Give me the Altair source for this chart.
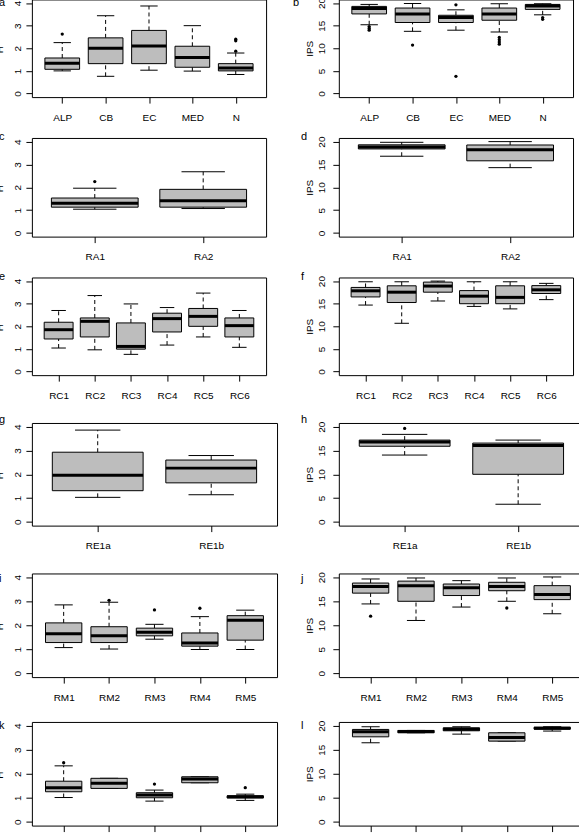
import json
import altair as alt
import pandas as pd

FONT = "Liberation Sans"
GRAY = "#bdbdbd"

# ---------------- data ----------------
# panel a : H' by region
A_CATS = ["ALP", "CB", "EC", "MED", "N"]
A_LO = [1.0, 0.76, 1.03, 0.99, 0.84]
A_Q1 = [1.07, 1.32, 1.32, 1.16, 1.0]
A_MED = [1.34, 2.0, 2.1, 1.59, 1.13]
A_Q3 = [1.57, 2.46, 2.79, 2.09, 1.32]
A_HI = [2.25, 3.44, 3.87, 3.0, 1.79]
A_OUT_X = [1, 5, 5, 5]
A_OUT_Y = [2.63, 1.87, 2.33, 2.4]

# panel b : IPS by region
B_CATS = ["ALP", "CB", "EC", "MED", "N"]
B_LO = [15.2, 13.75, 14.0, 13.6, 17.4]
B_Q1 = [17.6, 15.7, 15.7, 16.2, 18.6]
B_MED = [18.8, 17.6, 16.8, 17.6, 19.35]
B_Q3 = [19.26, 18.9, 17.3, 18.9, 19.7]
B_HI = [19.7, 19.9, 18.5, 19.85, 19.85]
B_OUT_X = [1, 1, 1, 2, 3, 3, 4, 4, 4, 4, 5, 5]
B_OUT_Y = [14.8, 14.4, 14.0, 10.7, 19.6, 3.8, 12.4, 11.9, 11.4, 10.9, 16.8, 16.4]

# panel c
C_CATS = ["RA1", "RA2"]
C_LO = [1.04, 1.07]
C_Q1 = [1.13, 1.13]
C_MED = [1.3, 1.41]
C_Q3 = [1.53, 1.91]
C_HI = [1.96, 2.68]
C_OUT_X = [1]
C_OUT_Y = [2.25]

# panel d
D_CATS = ["RA1", "RA2"]
D_LO = [16.8, 14.3]
D_Q1 = [18.4, 15.8]
D_MED = [18.8, 18.2]
D_Q3 = [19.3, 19.26]
D_HI = [19.85, 20.0]
D_OUT_X = []
D_OUT_Y = []

# panel e
E_CATS = ["RC1", "RC2", "RC3", "RC4", "RC5", "RC6"]
E_LO = [1.04, 0.96, 0.76, 1.17, 1.53, 1.07]
E_Q1 = [1.44, 1.53, 0.99, 1.75, 2.0, 1.53]
E_MED = [1.85, 2.22, 1.11, 2.34, 2.44, 2.03]
E_Q3 = [2.18, 2.37, 2.15, 2.58, 2.79, 2.37]
E_HI = [2.7, 3.36, 2.99, 2.83, 3.47, 2.7]
E_OUT_X = []
E_OUT_Y = []

# panel f
F_CATS = ["RC1", "RC2", "RC3", "RC4", "RC5", "RC6"]
F_LO = [14.7, 10.67, 15.6, 14.4, 13.85, 15.9]
F_Q1 = [16.5, 15.26, 17.55, 15.0, 15.0, 17.26]
F_MED = [17.85, 17.55, 18.9, 16.67, 16.4, 18.07]
F_Q3 = [18.6, 18.96, 19.78, 17.9, 18.96, 19.0]
F_HI = [19.85, 19.85, 20.0, 19.85, 19.85, 19.5]
F_OUT_X = []
F_OUT_Y = []

# panel g
G_CATS = ["RE1a", "RE1b"]
G_LO = [1.03, 1.14]
G_Q1 = [1.31, 1.64]
G_MED = [1.96, 2.26]
G_Q3 = [2.93, 2.6]
G_HI = [3.86, 2.79]
G_OUT_X = []
G_OUT_Y = []

# panel h
H_CATS = ["RE1a", "RE1b"]
H_LO = [14.05, 3.7]
H_Q1 = [15.9, 10.0]
H_MED = [16.8, 16.08]
H_Q3 = [17.2, 16.57]
H_HI = [18.4, 17.2]
H_OUT_X = [1]
H_OUT_Y = [19.65]

# panel i
I_CATS = ["RM1", "RM2", "RM3", "RM4", "RM5"]
I_LO = [1.07, 1.01, 1.42, 0.99, 0.99]
I_Q1 = [1.28, 1.28, 1.56, 1.13, 1.38]
I_MED = [1.65, 1.56, 1.71, 1.26, 2.21]
I_Q3 = [2.1, 1.94, 1.88, 1.68, 2.4]
I_HI = [2.85, 2.96, 2.04, 2.36, 2.63]
I_OUT_X = [2, 3, 4]
I_OUT_Y = [3.04, 2.64, 2.71]

# panel j
J_CATS = ["RM1", "RM2", "RM3", "RM4", "RM5"]
J_LO = [14.45, 11.0, 13.8, 15.0, 12.4]
J_Q1 = [16.7, 15.0, 16.2, 17.2, 15.35]
J_MED = [18.1, 18.26, 17.8, 18.1, 16.4]
J_Q3 = [18.8, 19.2, 18.6, 18.96, 18.26]
J_HI = [19.65, 19.86, 19.3, 19.86, 20.07]
J_OUT_X = [1, 4]
J_OUT_Y = [11.9, 13.6]

# panel k (category labels are cut off in the picture)
K_CATS = ["", "", "", "", ""]
K_LO = [1.01, 1.39, 0.86, 1.625, 0.89]
K_Q1 = [1.25, 1.39, 1.0, 1.625, 0.99]
K_MED = [1.42, 1.6, 1.11, 1.78, 1.04]
K_Q3 = [1.69, 1.81, 1.21, 1.875, 1.08]
K_HI = [2.33, 1.81, 1.32, 1.875, 1.15]
K_OUT_X = [1, 3, 5]
K_OUT_Y = [2.46, 1.57, 1.42]

# panel l
L_CATS = ["", "", "", "", ""]
L_LO = [16.46, 18.54, 18.26, 16.8, 18.9]
L_Q1 = [17.7, 18.54, 18.96, 16.8, 19.3]
L_MED = [18.75, 18.8, 19.3, 17.57, 19.5]
L_Q3 = [19.24, 19.03, 19.58, 18.54, 19.7]
L_HI = [19.8, 19.03, 19.8, 18.54, 19.8]
L_OUT_X = []
L_OUT_Y = []

H_TICKS = [0, 1, 2, 3, 4]
IPS_TICKS = [0, 5, 10, 15, 20]


def panel(cats, lo, q1, med, q3, hi, ox, oy, ymax, yticks, w, h,
          letter, ldx, ldy, title, tx, lpad, xlabels=True):
    n = len(cats)
    df = pd.DataFrame({"pos": list(range(1, n + 1)), "lo": lo, "q1": q1,
                       "med": med, "q3": q3, "hi": hi})
    xs = alt.Scale(domain=[0.5 - 0.04 * n, n + 0.5 + 0.04 * n], nice=False, zero=False)
    ys = alt.Scale(domain=[-0.04 * ymax, 1.04 * ymax], nice=False, zero=False)
    xax = alt.Axis(values=list(range(1, n + 1)),
                   labelExpr=json.dumps(cats) + "[datum.value - 1]",
                   title=None, grid=False, domain=False, tickSize=6, tickColor="black",
                   tickWidth=1, labelFont=FONT, labelFontSize=10, labelColor="black",
                   labelPadding=9, labelAngle=0, labels=xlabels, labelFlush=False,
                   labelOverlap=False)
    yax = alt.Axis(values=yticks, title=title, titleX=tx, titleY=h / 2, titleAngle=270,
                   titleAlign="center", titleBaseline="middle", titleFont=FONT,
                   titleFontSize=10, titleFontWeight="normal", titleColor="black",
                   labelAngle=270, labelAlign="center", labelBaseline="bottom",
                   labelPadding=lpad, tickSize=6, tickColor="black", tickWidth=1,
                   grid=False, domain=False, labelFont=FONT, labelFontSize=10,
                   labelColor="black", labelOverlap=False, labelFlush=False)

    base = alt.Chart(df).transform_calculate(
        bl="datum.pos - 0.4", br="datum.pos + 0.4",
        sl="datum.pos - 0.2", sr="datum.pos + 0.2")

    def X(f):
        return alt.X(f + ":Q", scale=xs, axis=xax)

    def Y(f):
        return alt.Y(f + ":Q", scale=ys, axis=yax)

    dash = dict(color="black", strokeWidth=1, strokeDash=[4, 3])
    solid = dict(color="black", strokeWidth=1)
    layers = [
        base.mark_rule(**dash).encode(x=X("pos"), y=Y("lo"), y2="q1:Q"),
        base.mark_rule(**dash).encode(x=X("pos"), y=Y("q3"), y2="hi:Q"),
        base.mark_rule(**solid).encode(x=X("sl"), x2="sr:Q", y=Y("lo")),
        base.mark_rule(**solid).encode(x=X("sl"), x2="sr:Q", y=Y("hi")),
        base.mark_rect(fill=GRAY, stroke="black", strokeWidth=1).encode(
            x=X("bl"), x2="br:Q", y=Y("q1"), y2="q3:Q"),
        base.mark_rule(color="black", strokeWidth=3).encode(
            x=X("bl"), x2="br:Q", y=Y("med")),
    ]
    if ox:
        odf = pd.DataFrame({"ox": ox, "oy": oy})
        layers.append(alt.Chart(odf).mark_circle(size=11, color="black", opacity=1).encode(
            x=X("ox"), y=Y("oy")))
    ldf = pd.DataFrame({"t": [letter]})
    layers.append(alt.Chart(ldf).mark_text(align="left", baseline="top", font=FONT,
                                           fontSize=11, color="black").encode(
        text="t:N", x=alt.value(ldx), y=alt.value(ldy)))
    return alt.layer(*layers).properties(width=w, height=h)


LETTERS = iter("abcdefghijkl")

specs = [
    # (left data, right data, width, height, letter dy, right letter dx, h spacing, xlabels)
    ((A_CATS, A_LO, A_Q1, A_MED, A_Q3, A_HI, A_OUT_X, A_OUT_Y),
     (B_CATS, B_LO, B_Q1, B_MED, B_Q3, B_HI, B_OUT_X, B_OUT_Y), 235, 98, -2, -46, 25, True),
    ((C_CATS, C_LO, C_Q1, C_MED, C_Q3, C_HI, C_OUT_X, C_OUT_Y),
     (D_CATS, D_LO, D_Q1, D_MED, D_Q3, D_HI, D_OUT_X, D_OUT_Y), 235, 99, -7, -38, 33, True),
    ((E_CATS, E_LO, E_Q1, E_MED, E_Q3, E_HI, E_OUT_X, E_OUT_Y),
     (F_CATS, F_LO, F_Q1, F_MED, F_Q3, F_HI, F_OUT_X, F_OUT_Y), 235, 98, -6, -38, 33, True),
    ((G_CATS, G_LO, G_Q1, G_MED, G_Q3, G_HI, G_OUT_X, G_OUT_Y),
     (H_CATS, H_LO, H_Q1, H_MED, H_Q3, H_HI, H_OUT_X, H_OUT_Y), 246, 103, -9, -38, 22, True),
    ((I_CATS, I_LO, I_Q1, I_MED, I_Q3, I_HI, I_OUT_X, I_OUT_Y),
     (J_CATS, J_LO, J_Q1, J_MED, J_Q3, J_HI, J_OUT_X, J_OUT_Y), 246, 104, 0, -38, 22, True),
    ((K_CATS, K_LO, K_Q1, K_MED, K_Q3, K_HI, K_OUT_X, K_OUT_Y),
     (L_CATS, L_LO, L_Q1, L_MED, L_Q3, L_HI, L_OUT_X, L_OUT_Y), 246, 104, -2, -38, 22, False),
]

rows = []
for Ld, Rd, w, h, ldy, rdx, sp, xl in specs:
    lchart = panel(*Ld, 4, H_TICKS, w, h, next(LETTERS), -33, ldy, "H'", -32, 3, xl)
    rchart = panel(*Rd, 20, IPS_TICKS, w, h, next(LETTERS), rdx, ldy, "IPS", -29, 6, xl)
    rows.append(alt.hconcat(lchart, rchart, spacing=sp))

VSP = [7, 8, 12, 19, 16]
chart = rows[-1]
for i in range(len(rows) - 2, -1, -1):
    chart = alt.vconcat(rows[i], chart, spacing=VSP[i])

chart = chart.properties(
    padding={"left": -6, "top": -5, "right": -6, "bottom": 0},
    background="white",
).configure_view(stroke="black", strokeWidth=1)

chart.save("out.html", embed_options={"renderer": "svg", "actions": False})
